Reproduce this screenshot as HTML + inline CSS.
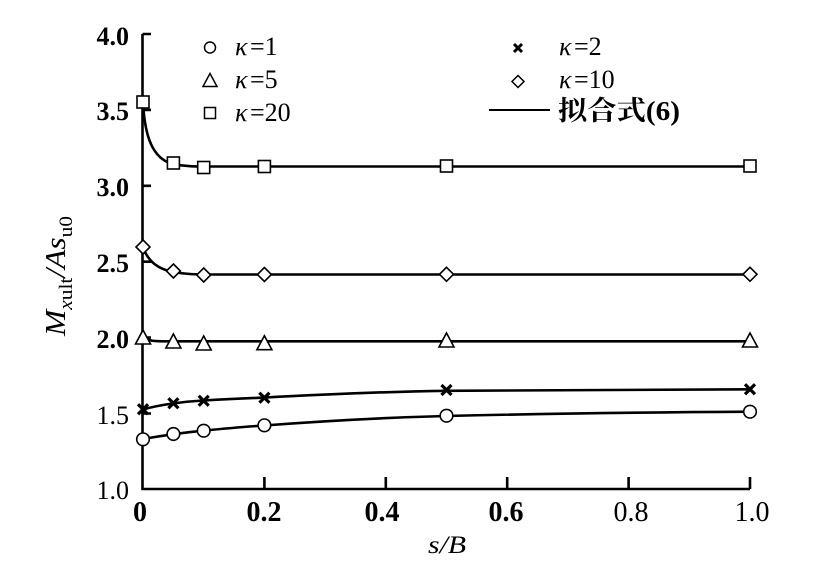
<!DOCTYPE html>
<html>
<head>
<meta charset="utf-8">
<style>
html,body{margin:0;padding:0;background:#fff;}
svg{display:block;}
text{font-family:"Liberation Serif","Noto Serif CJK SC","Noto Sans CJK SC",serif;fill:#000;}
</style>
</head>
<body>
<svg width="814" height="575" viewBox="0 0 814 575" xmlns="http://www.w3.org/2000/svg">
<rect width="814" height="575" fill="#fff"/>

<!-- axes -->
<g stroke="#000" stroke-width="2.6" fill="none">
  <path d="M142.5,34 L142.5,489 L750,489"/>
  <path d="M142.5,34 L151,34 M142.5,109.9 L151,109.9 M142.5,185.8 L151,185.8 M142.5,261.7 L151,261.7 M142.5,337.6 L151,337.6 M142.5,413.5 L151,413.5"/>
  <path d="M264.4,489 L264.4,477 M385.8,489 L385.8,477 M507.2,489 L507.2,477 M628.6,489 L628.6,477 M750,489 L750,477"/>
</g>

<!-- y tick labels -->
<g font-size="26" text-anchor="end" font-family="Liberation Serif, serif">
  <text x="129" y="45" font-weight="bold">4.0</text>
  <text x="129" y="120" font-weight="bold">3.5</text>
  <text x="129" y="196" font-weight="bold">3.0</text>
  <text x="129" y="272" font-weight="bold">2.5</text>
  <text x="129" y="348" font-weight="bold">2.0</text>
  <text x="129" y="424">1.5</text>
  <text x="129" y="499">1.0</text>
</g>

<!-- x tick labels -->
<g font-size="28" text-anchor="middle" font-family="Liberation Serif, serif">
  <text x="140" y="521" font-weight="bold">0</text>
  <text x="264" y="521" font-weight="bold">0.2</text>
  <text x="382" y="521" font-weight="bold">0.4</text>
  <text x="506" y="521" font-weight="bold">0.6</text>
  <text x="631" y="521">0.8</text>
  <text x="752" y="521">1.0</text>
</g>

<!-- axis titles -->
<text x="428" y="553" font-size="25" font-style="italic" font-family="Liberation Serif, serif" textLength="38" lengthAdjust="spacingAndGlyphs">s/B</text>
<text transform="translate(65,336) rotate(-90)" font-size="28" font-family="Liberation Serif, serif" textLength="120" lengthAdjust="spacingAndGlyphs"><tspan font-style="italic">M</tspan><tspan font-size="19" dy="7"><tspan font-style="italic">x</tspan>ult</tspan><tspan dy="-7" font-style="italic">/As</tspan><tspan font-size="19" dy="7">u0</tspan></text>

<!-- fitted curves -->
<g stroke="#000" stroke-width="2.6" fill="none">
  <path d="M143,103 C145,138 153,158 172,164 C185,166.5 195,166.5 210,166.5 L750,166.5"/>
  <path d="M143,248 C149,262 158,269 173,272 C186,274.3 196,274.5 212,274.5 L750,274.5"/>
  <path d="M143,337.5 C146,340 151,341.2 162,341.3 L750,341.3"/>
  <path d="M143,409.5 C160,404.5 185,401.5 203,400.5 C230,399 250,398.2 264,397.6 C330,394 400,391.5 446,390.8 C550,389.8 650,389.5 750,389.3"/>
  <path d="M143,439 C160,436 185,432.5 203,430.7 C230,428 250,426.4 264,425.5 C330,420.5 400,417.2 446,416 C550,413.5 650,412.3 750,411.7"/>
</g>

<!-- markers -->
<g stroke="#000" stroke-width="1.6" fill="#fff">
  <rect x="137" y="96" width="12" height="12"/>
  <rect x="167.4" y="157" width="12" height="12"/>
  <rect x="197.7" y="161.5" width="12" height="12"/>
  <rect x="258.4" y="160.5" width="12" height="12"/>
  <rect x="440.5" y="160" width="12" height="12"/>
  <rect x="744" y="160" width="12" height="12"/>
  <path d="M143,240 L150,247 L143,254 L136,247 Z"/>
  <path d="M173.4,264 L180.4,271 L173.4,278 L166.4,271 Z"/>
  <path d="M203.7,268 L210.7,275 L203.7,282 L196.7,275 Z"/>
  <path d="M264.4,267.5 L271.4,274.5 L264.4,281.5 L257.4,274.5 Z"/>
  <path d="M446.5,267.3 L453.5,274.3 L446.5,281.3 L439.5,274.3 Z"/>
  <path d="M750,267.3 L757,274.3 L750,281.3 L743,274.3 Z"/>
  <path d="M143,330 L150.5,344 L135.5,344 Z"/>
  <path d="M173.4,334 L180.9,348 L165.9,348 Z"/>
  <path d="M203.7,336 L211.2,350 L196.2,350 Z"/>
  <path d="M264.4,335.7 L271.9,349.7 L256.9,349.7 Z"/>
  <path d="M446.5,333 L454,347 L439,347 Z"/>
  <path d="M750,333 L757.5,347 L742.5,347 Z"/>
  <circle cx="143" cy="439.3" r="6.3"/>
  <circle cx="173.4" cy="434" r="6.3"/>
  <circle cx="203.7" cy="430.7" r="6.3"/>
  <circle cx="264.4" cy="425.3" r="6.3"/>
  <circle cx="446.5" cy="415.7" r="6.3"/>
  <circle cx="750" cy="411.7" r="6.3"/>
</g>
<g stroke="#000" stroke-width="3.2" fill="none">
  <path d="M138,404.3 L148,414.3 M148,404.3 L138,414.3"/>
  <path d="M168.4,398.3 L178.4,408.3 M178.4,398.3 L168.4,408.3"/>
  <path d="M198.7,395.7 L208.7,405.7 M208.7,395.7 L198.7,405.7"/>
  <path d="M259.4,392.7 L269.4,402.7 M269.4,392.7 L259.4,402.7"/>
  <path d="M441.5,385 L451.5,395 M451.5,385 L441.5,395"/>
  <path d="M745,384.3 L755,394.3 M755,384.3 L745,394.3"/>
</g>

<!-- legend -->
<g stroke="#000" stroke-width="1.5" fill="#fff">
  <circle cx="210" cy="47.5" r="5.5"/>
  <path d="M210,73.5 L217,86.5 L203,86.5 Z"/>
  <rect x="204.5" y="107.5" width="11" height="11"/>
  <path d="M518,75.5 L524,81.5 L518,87.5 L512,81.5 Z"/>
</g>
<path d="M514,44 L522,52 M522,44 L514,52" stroke="#000" stroke-width="3" fill="none"/>
<path d="M489,110 L550,110" stroke="#000" stroke-width="2" fill="none"/>

<g font-size="26" font-family="Liberation Serif, serif">
  <text x="235" y="55" font-style="italic">κ</text><text x="250" y="55">=1</text>
  <text x="235" y="88" font-style="italic">κ</text><text x="250" y="88">=5</text>
  <text x="235" y="121" font-style="italic">κ</text><text x="250" y="121">=20</text>
  <text x="559" y="55" font-style="italic">κ</text><text x="574" y="55">=2</text>
  <text x="559" y="88" font-style="italic">κ</text><text x="574" y="88">=10</text>
</g>
<text x="558" y="120" font-size="27" font-weight="bold" style="font-family:'Liberation Serif','Noto Serif CJK SC',serif" textLength="122" lengthAdjust="spacingAndGlyphs">拟合式(6)</text>
</svg>
</body>
</html>
